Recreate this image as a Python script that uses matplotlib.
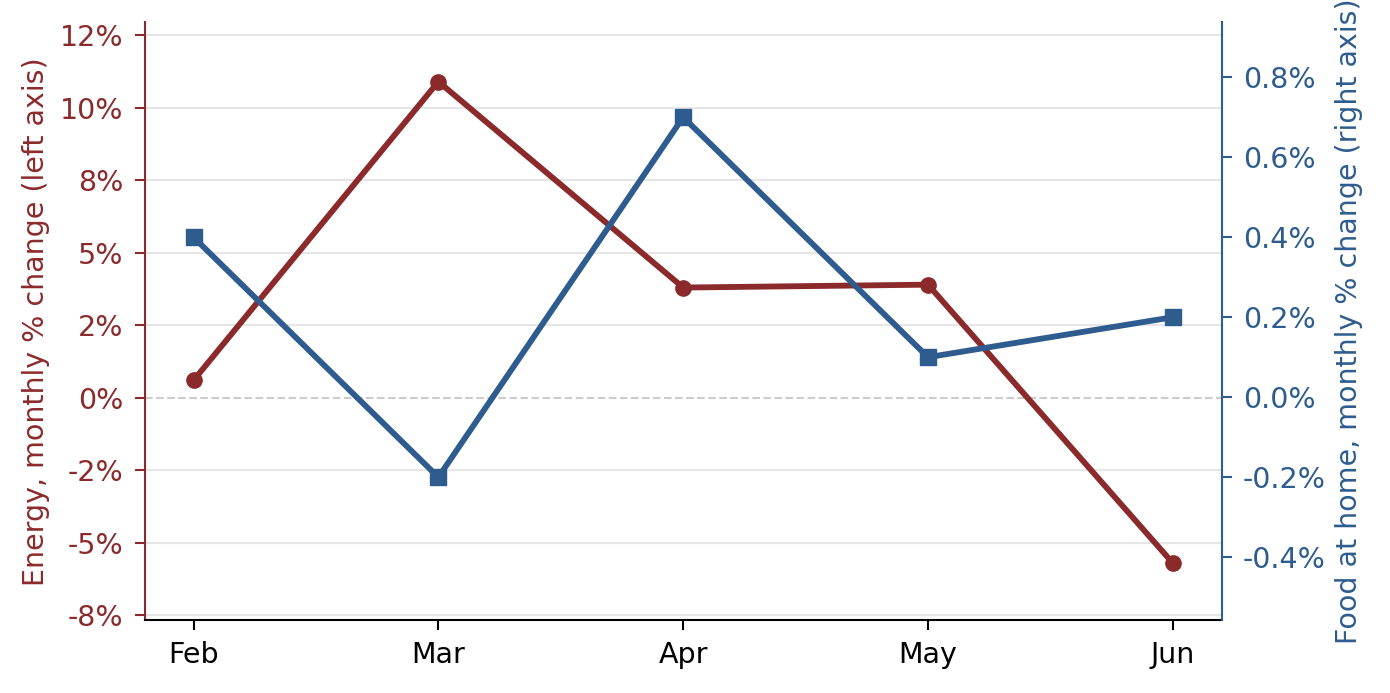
import numpy as np
import matplotlib.pyplot as plt
from matplotlib.ticker import FuncFormatter

# data
months = ["Feb", "Mar", "Apr", "May", "Jun"]
energy = [0.6, 10.9, 3.8, 3.9, -5.7]      # % m/m, left axis
food_home = [0.4, -0.2, 0.7, 0.1, 0.2]    # % m/m, right axis

red = "#8b2a2a"
blue = "#2e5c8e"
fs = 20.5

fig, ax = plt.subplots(figsize=(13.9, 6.93), dpi=100)
fig.subplots_adjust(left=0.104, right=0.879, bottom=0.105, top=0.968)
ax2 = ax.twinx()

x = np.arange(len(months))

ax.plot(x, energy, color=red, lw=4.2, marker="o", ms=11, zorder=3)
ax2.plot(x, food_home, color=blue, lw=4.2, marker="s", ms=11, zorder=3)

ax.set_xlim(-0.2, 4.2)
ax.set_ylim(-7.67, 12.95)
ax2.set_ylim(-0.5575, 0.9375)

left_ticks = np.arange(-7.5, 12.6, 2.5)
ax.set_yticks(left_ticks)
ax.yaxis.set_major_formatter(FuncFormatter(lambda v, p: "{:.0f}%".format(v)))
ax2.set_yticks([-0.4, -0.2, 0.0, 0.2, 0.4, 0.6, 0.8])
ax2.yaxis.set_major_formatter(FuncFormatter(lambda v, p: "{:.1f}%".format(v)))

ax.set_xticks(x)
ax.set_xticklabels(months)

# light grid, dashed at zero
for v in left_ticks:
    if abs(v) > 1e-9:
        ax.axhline(v, color="#e6e6e6", lw=1.5, zorder=0)
ax.axhline(0, color="#cccccc", lw=1.5, ls="--", zorder=1)

ax.set_ylabel("Energy, monthly % change (left axis)", color=red, fontsize=fs, labelpad=7)
ax2.set_ylabel("Food at home, monthly % change (right axis)", color=blue, fontsize=fs, labelpad=7)

ax.tick_params(axis="y", colors=red, labelsize=fs, length=7, width=1.5, pad=8)
ax.tick_params(axis="x", labelsize=fs, length=7, width=1.5, pad=8)
ax2.tick_params(axis="y", colors=blue, labelsize=fs, length=7, width=1.5, pad=8)

for a in (ax, ax2):
    a.spines["top"].set_visible(False)
ax.spines["left"].set_color(red)
ax.spines["left"].set_linewidth(1.5)
ax2.spines["left"].set_visible(False)
ax2.spines["right"].set_color(blue)
ax2.spines["right"].set_linewidth(1.5)
ax.spines["right"].set_visible(False)
ax.spines["bottom"].set_linewidth(1.5)
ax2.spines["bottom"].set_visible(False)

plt.savefig("out.png", dpi=100)
